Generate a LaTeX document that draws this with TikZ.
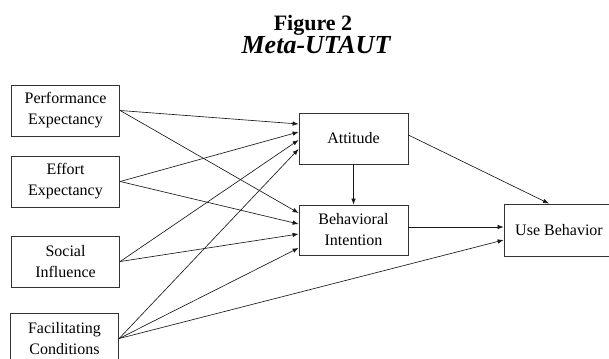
\documentclass[tikz,border=0pt]{standalone}
\usepackage{fontspec}
\setmainfont{Liberation Serif}
\usetikzlibrary{arrows.meta}
\begin{document}
\begin{tikzpicture}[x=1pt,y=-1pt,
  box/.style={draw=black!80, line width=0.8pt, rectangle, inner sep=0pt,
    minimum width=109pt, minimum height=51pt, align=center,
    font=\fontsize{16}{21}\selectfont},
  arr/.style={line width=0.65pt, draw=black!90, -{Latex[length=6pt,width=4.5pt]}},
  ttl/.style={inner sep=0pt, anchor=base}]
\useasboundingbox (0,0) rectangle (609,358);
\clip (0,0) rectangle (609,358);
\node[ttl, font=\fontsize{22}{26}\selectfont\bfseries] (t1) at (313,31) {Figure 2};
\node[ttl, font=\fontsize{26}{28}\selectfont\bfseries\itshape] (t2) at (316,54) {Meta-UTAUT};
\node[box, minimum width=108.5pt] (pe) at (65.5,110.5) {Performance\\Expectancy};
\node[box, minimum width=108.5pt] (ee) at (65.5,181.5) {Effort\\Expectancy};
\node[box, minimum width=108.5pt] (si) at (65.5,261.5) {Social\\Influence};
\node[box, minimum width=108.5pt] (fc) at (64.5,338.5) {Facilitating\\Conditions};
\node[box] (att) at (353.5,138.5) {Attitude};
\node[box, minimum height=50pt] (bi) at (353.5,230) {Behavioral\\Intention};
\node[box, minimum width=110pt, minimum height=52pt] (ub) at (559,230) {Use Behavior};
% to Attitude
\draw[arr] (pe.east) -- ([yshift=14.5pt]att.west);
\draw[arr] (ee.east) -- ([yshift=6.5pt]att.west);
\draw[arr] (si.east) -- ([yshift=-1.5pt]att.west);
\draw[arr] (fc.east) -- ([yshift=-10.5pt]att.west);
% to Behavioral Intention
\draw[arr] (pe.east) -- ([yshift=17pt]bi.west);
\draw[arr] (ee.east) -- ([yshift=6pt]bi.west);
\draw[arr] (si.east) -- ([yshift=-4pt]bi.west);
\draw[arr] (fc.east) -- ([yshift=-18pt]bi.west);
% others
\draw[arr] (att.south) -- (bi.north);
\draw[arr] ([yshift=3.5pt]att.east) -- ([xshift=-10pt]ub.north);
\draw[arr] ([yshift=3pt]bi.east) -- ([yshift=3pt]ub.west);
\draw[arr] (fc.east) -- ([yshift=-10pt]ub.west);
\end{tikzpicture}
\end{document}
